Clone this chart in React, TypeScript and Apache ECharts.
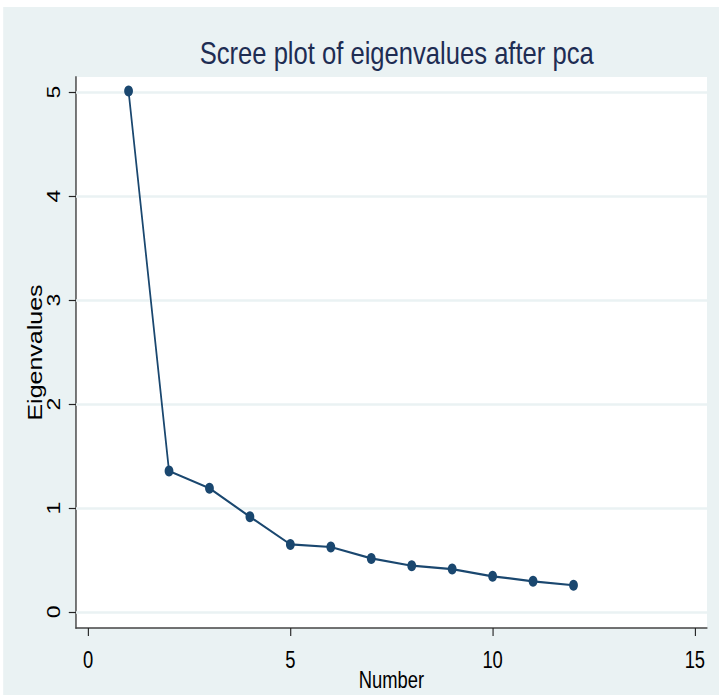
import React, { useEffect, useRef } from "react";
import * as echarts from "echarts";

// Component numbers and their eigenvalues
const componentNumbers = [1, 2, 3, 4, 5, 6, 7, 8, 9, 10, 11, 12];
const eigenvalues = [5.01, 1.356, 1.19, 0.916, 0.65, 0.625, 0.515, 0.445, 0.413, 0.343, 0.295, 0.257];

// Axis tick values
const xTicks = [0, 5, 10, 15];
const yTicks = [0, 1, 2, 3, 4, 5];

const NAVY = "#1A476F";
const BG = "#EAF2F3";
const FONT = "'Liberation Sans', Arial, sans-serif";

// The chart is laid out on a wider canvas and condensed horizontally,
// giving the narrow lettering and slightly tall markers of the graph.
const SQUEEZE = 0.8;
const OUT_W = 719;
const OUT_H = 696;
const W = Math.round(OUT_W / SQUEEZE);

export default function App() {
  const ref = useRef<HTMLDivElement>(null);

  useEffect(() => {
    document.body.style.margin = "0";
    const chart = echarts.init(ref.current!, null, { renderer: "svg" });
    const points = componentNumbers.map((n, i) => [n, eigenvalues[i]]);

    chart.setOption({
      animation: false,
      backgroundColor: "#ffffff",
      graphic: [
        {
          type: "rect",
          z: -10,
          silent: true,
          shape: { x: 4, y: 7, width: W, height: 688 },
          style: { fill: BG },
        },
      ],
      title: {
        text: "Scree plot of eigenvalues after pca",
        left: 491,
        textAlign: "center",
        top: 32,
        textStyle: {
          fontFamily: FONT,
          fontSize: 32,
          fontWeight: "normal",
          color: "#1E2D53",
        },
      },
      grid: {
        left: 95,
        top: 77,
        right: W - 884,
        bottom: 68,
        outerBoundsMode: "none",
        containLabel: false,
        show: true,
        backgroundColor: "#ffffff",
        borderWidth: 0,
      },
      xAxis: {
        type: "value",
        min: -0.3,
        max: 15.3,
        name: "Number",
        nameLocation: "middle",
        nameGap: 40,
        nameMoveOverlap: false,
        nameTextStyle: { fontFamily: FONT, fontSize: 23, color: "#000" },
        axisLine: { onZero: false, lineStyle: { color: "#444", width: 1.5 } },
        axisTick: { customValues: xTicks, length: 8, lineStyle: { color: "#222", width: 1.4 } },
        axisLabel: { customValues: xTicks, margin: 20, fontFamily: FONT, fontSize: 23, color: "#000" },
        splitLine: { show: false },
      },
      yAxis: {
        type: "value",
        min: -0.154,
        max: 5.145,
        name: "Eigenvalues",
        nameLocation: "middle",
        nameRotate: 90,
        nameGap: 38,
        nameMoveOverlap: false,
        nameTextStyle: { fontFamily: FONT, fontSize: 25, color: "#000" },
        axisLine: { show: true, onZero: false, lineStyle: { color: "#444", width: 1.8 } },
        axisTick: { show: true, customValues: yTicks, length: 9, lineStyle: { color: "#222", width: 1.2 } },
        axisLabel: { customValues: yTicks, rotate: 90, margin: 17, fontFamily: FONT, fontSize: 23, color: "#000" },
        splitLine: { show: false },
      },
      series: [
        {
          // horizontal grid lines at each y tick
          type: "line",
          data: [],
          z: 1,
          silent: true,
          markLine: {
            silent: true,
            symbol: "none",
            label: { show: false },
            lineStyle: { color: BG, width: 2.5, type: "solid" },
            data: yTicks.map((v) => ({ yAxis: v })),
          },
        },
        {
          type: "line",
          data: points,
          z: 5,
          symbol: "circle",
          symbolSize: 11,
          lineStyle: { color: NAVY, width: 2.2 },
          itemStyle: { color: NAVY },
        },
      ],
    });

    return () => chart.dispose();
  }, []);

  return (
    <div style={{ width: OUT_W, height: OUT_H, overflow: "hidden", background: "#fff" }}>
      <div
        ref={ref}
        style={{ width: W, height: OUT_H, transform: `scaleX(${OUT_W / W})`, transformOrigin: "0 0" }}
      />
    </div>
  );
}
